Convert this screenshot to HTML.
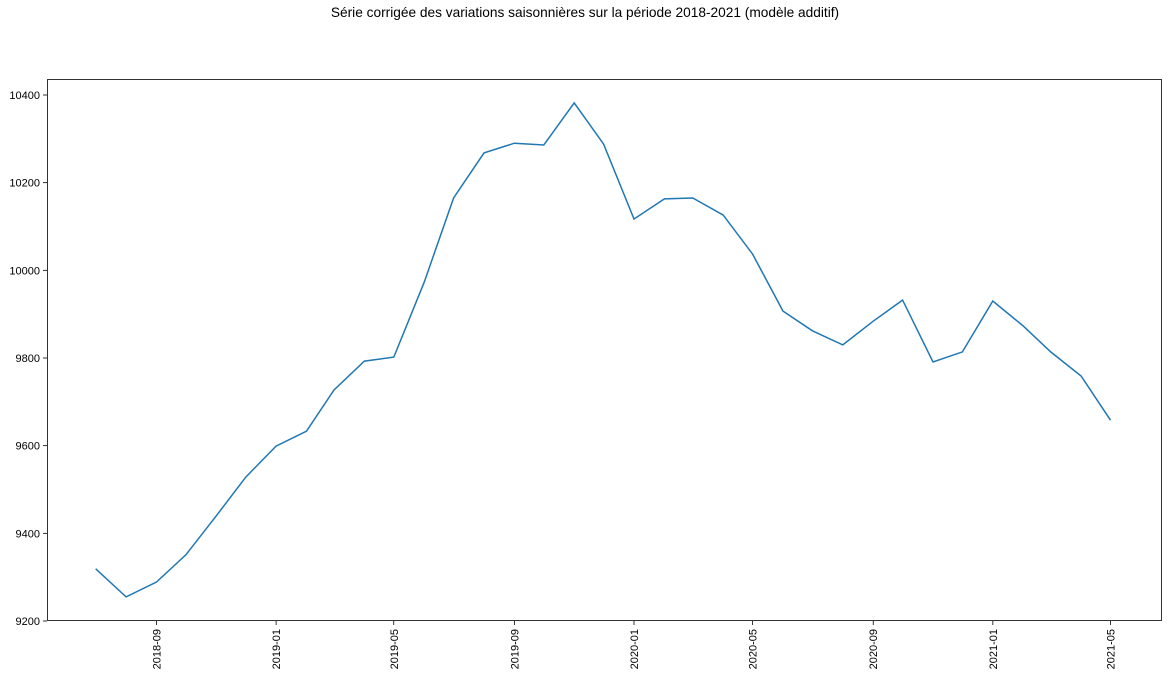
<!DOCTYPE html>
<html><head><meta charset="utf-8"><style>
html,body{margin:0;padding:0;background:#fff;}
svg{display:block;font-family:"Liberation Sans","DejaVu Sans",sans-serif;}
</style></head><body>
<svg id="chart" width="1168" height="678">
<text x="585" y="17" text-anchor="middle" font-size="13.7" fill="#000">Série corrigée des variations saisonnières sur la période 2018-2021 (modèle additif)</text>
<g id="axes"></g>
</svg>
<script>
const months = ["2018-07","2018-08","2018-09","2018-10","2018-11","2018-12","2019-01","2019-02","2019-03","2019-04","2019-05","2019-06","2019-07","2019-08","2019-09","2019-10","2019-11","2019-12","2020-01","2020-02","2020-03","2020-04","2020-05","2020-06","2020-07","2020-08","2020-09","2020-10","2020-11","2020-12","2021-01","2021-02","2021-03","2021-04","2021-05"];
const values = [9319,9255,9289,9351,9440,9528,9599,9633,9727,9793,9802,9973,10165,10268,10290,10286,10382,10288,10117,10163,10165,10126,10037,9907,9862,9830,9884,9932,9791,9814,9930,9873,9814,9759,9658];
const yTicks = [9200,9400,9600,9800,10000,10200,10400];
const xTicks = ["2018-09","2019-01","2019-05","2019-09","2020-01","2020-05","2020-09","2021-01","2021-05"];

const NS="http://www.w3.org/2000/svg";
const L=47,R=1162,T=79,B=621;
function day(m){return Date.UTC(+m.slice(0,4),+m.slice(5,7)-1,1)/86400000;}
const d0=day("2018-09"),d1=day("2021-05");
function xs(m){return 156.5+(day(m)-d0)*(1110.5-156.5)/(d1-d0);}
function ys(v){return 621-(v-9200)*(621-95)/1200;}
const g=document.getElementById('axes');
function el(t,a){const e=document.createElementNS(NS,t);for(const k in a)e.setAttribute(k,a[k]);g.appendChild(e);return e;}

let pts=months.map((m,i)=>xs(m).toFixed(1)+","+ys(values[i]).toFixed(1)).join(" ");
const line=el('polyline',{points:pts,fill:"none",stroke:"#1f77b4","stroke-width":1.5});



const frame=el('rect',{x:L+0.5,y:T+0.5,width:R-L-1,height:B-T-1,fill:"none",stroke:"#000","stroke-width":0.8});



yTicks.forEach(v=>{
  const y=ys(v);
  el('line',{x1:L-4,x2:L,y1:y,y2:y,stroke:"#000","stroke-width":0.8});
  const t=el('text',{x:L-7,y:y+4,"text-anchor":"end","font-size":11,fill:"#000"});
  t.textContent=v;
  
  
});
xTicks.forEach(m=>{
  const x=xs(m);
  el('line',{x1:x,x2:x,y1:B,y2:B+4,stroke:"#000","stroke-width":0.8});
  const t=el('text',{x:0,y:0,"text-anchor":"end","font-size":11,fill:"#000",transform:`translate(${x+4},${B+8}) rotate(-90)`});
  t.textContent=m;
  
  
});
</script>
</body></html>
